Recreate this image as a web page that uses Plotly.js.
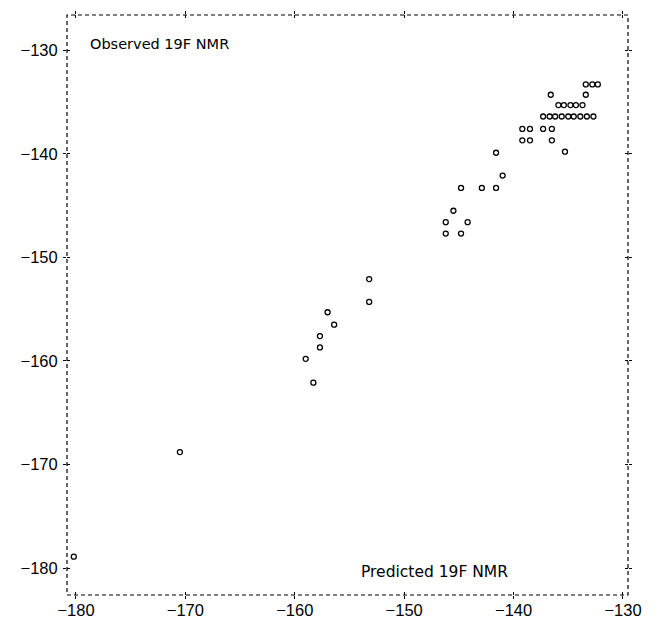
<!DOCTYPE html>
<html>
<head>
<meta charset="utf-8">
<script src="https://cdn.plot.ly/plotly-3.0.1.min.js"></script>
<style>html,body{margin:0;padding:0;background:#fff;}#chart{width:658px;height:620px;}</style>
</head>
<body>
<div id="chart"></div>
<script>
// Predicted vs observed 19F NMR shifts (ppm)
const predicted = [
  -180.2, -170.5,
  -158.3, -159.0, -157.7, -157.7, -156.4, -157.0, -153.2, -153.2,
  -146.2, -144.8, -146.2, -144.2, -145.5,
  -144.8, -142.9, -141.6, -141.0, -141.6, -135.3,
  -139.2, -138.5, -136.5,
  -139.2, -138.5, -137.3, -136.5,
  -137.3, -136.7, -136.2, -135.6, -135.0, -134.5, -133.9, -133.3, -132.7,
  -135.9, -135.4, -134.8, -134.3, -133.7,
  -136.6, -133.4,
  -133.4, -132.8, -132.3
];
const observed = [
  -178.9, -168.8,
  -162.1, -159.8, -158.7, -157.6, -156.5, -155.3, -154.3, -152.1,
  -147.7, -147.7, -146.6, -146.6, -145.5,
  -143.3, -143.3, -143.3, -142.1, -139.9, -139.8,
  -138.7, -138.7, -138.7,
  -137.6, -137.6, -137.6, -137.6,
  -136.4, -136.4, -136.4, -136.4, -136.4, -136.4, -136.4, -136.4, -136.4,
  -135.3, -135.3, -135.3, -135.3, -135.3,
  -134.3, -134.3,
  -133.3, -133.3, -133.3
];
const xTicks = [-180, -170, -160, -150, -140, -130];
const yTicks = [-180, -170, -160, -150, -140, -130];
const xTickText = ['\u2212180', '\u2212170', '\u2212160', '\u2212150', '\u2212140', '\u2212130'];
const yTickText = ['\u2212180', '\u2212170', '\u2212160', '\u2212150', '\u2212140', '\u2212130'];
const xLabel = 'Predicted 19F NMR';
const yLabel = 'Observed 19F NMR';

const xRange = [-180.82, -129.54];
const yRange = [-182.6, -126.6];
const fontFam = 'Liberation Sans, Arial, sans-serif';
const labelFam = 'DejaVu Sans, Liberation Sans, sans-serif';

const trace = {
  x: predicted, y: observed, type: 'scatter', mode: 'markers',
  marker: {symbol: 'circle-open', size: 5, color: '#000', line: {width: 1.3, color: '#000'}},
  hoverinfo: 'skip', cliponaxis: false
};
const ghost = {x: [], y: [], xaxis: 'x2', yaxis: 'y2', type: 'scatter', mode: 'markers', hoverinfo: 'skip', showlegend: false};

const axBase = {
  showgrid: false, zeroline: false, showline: false,
  ticks: 'outside', ticklen: 3, tickwidth: 1, tickcolor: '#000',
  mirror: 'allticks', tickmode: 'array'
};

const layout = {
  width: 658, height: 620,
  margin: {l: 67, r: 30, t: 15, b: 25},
  paper_bgcolor: '#fff', plot_bgcolor: '#fff',
  showlegend: false,
  font: {family: fontFam, color: '#000', size: 16},
  xaxis: Object.assign({}, axBase, {
    range: xRange, tickvals: xTicks, ticktext: xTickText,
    tickfont: {family: fontFam, size: 16.5, color: '#000'},
    ticklabelstandoff: -3
  }),
  yaxis: Object.assign({}, axBase, {
    range: yRange, tickvals: yTicks, ticktext: yTickText,
    tickfont: {family: fontFam, size: 16.5, color: '#000'},
    ticklabelstandoff: 2
  }),
  xaxis2: Object.assign({}, axBase, {
    overlaying: 'x', anchor: 'y2', range: xRange, tickvals: xTicks,
    ticks: 'inside', showticklabels: false
  }),
  yaxis2: Object.assign({}, axBase, {
    overlaying: 'y', anchor: 'x2', range: yRange, tickvals: yTicks,
    ticks: 'inside', showticklabels: false
  }),
  shapes: [{
    type: 'rect', xref: 'paper', yref: 'paper', x0: 0, x1: 1, y0: 0, y1: 1,
    line: {color: '#000', width: 1.2, dash: '4px,3px'}, fillcolor: 'rgba(0,0,0,0)'
  }],
  annotations: [
    {text: yLabel, xref: 'paper', yref: 'paper', x: 0.037, y: 0.95, xanchor: 'left', yanchor: 'middle',
     showarrow: false, font: {family: labelFam, size: 14.5, color: '#000'}},
    {text: xLabel, xref: 'paper', yref: 'paper', x: 0.52, y: 0.04, xanchor: 'left', yanchor: 'middle',
     showarrow: false, font: {family: labelFam, size: 15.5, color: '#000'}}
  ]
};

Plotly.newPlot('chart', [trace, ghost], layout, {displayModeBar: false, staticPlot: true});
</script>
</body>
</html>
